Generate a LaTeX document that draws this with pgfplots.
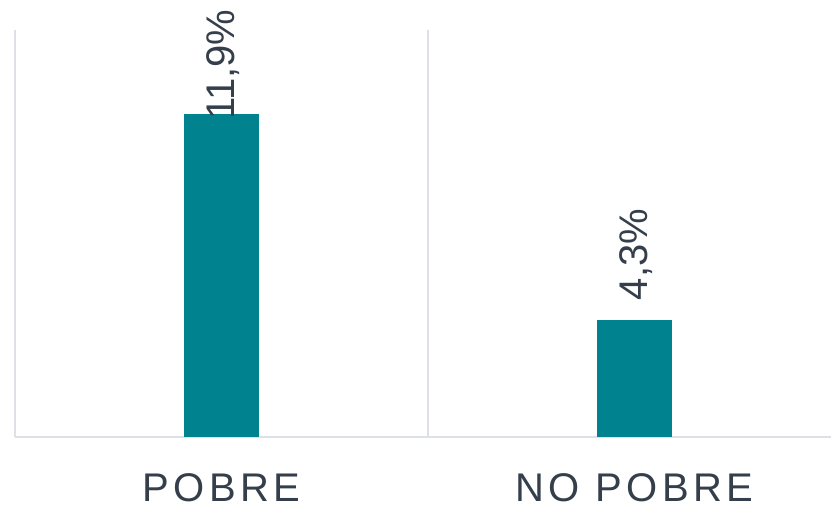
\documentclass[border=0pt]{standalone}
\usepackage{fontspec}
\setmainfont{Liberation Sans}
\newfontfamily\catfont[LetterSpace=11]{Liberation Sans}
\usepackage{pgfplots}
\pgfplotsset{compat=1.18}
\definecolor{barc}{HTML}{00838F}
\definecolor{txt}{HTML}{343F4B}
\definecolor{gridc}{HTML}{DDE1E5}

\begin{document}
\begin{tikzpicture}
\path[use as bounding box] (0,0) rectangle (831pt,506pt);
\begin{axis}[
  at={(15pt,69pt)}, anchor=south west,
  scale only axis, width=826pt, height=407pt,
  xmin=-0.5, xmax=1.5, ymin=0, ymax=15,
  ybar, bar width=75pt,
  axis x line*=bottom, axis y line=none,
  axis line style={gridc, line width=1.2pt},
  xtick={0,1}, xticklabels={POBRE,NO POBRE},
  major tick length=0pt,
  xticklabel style={font=\fontsize{40}{44}\catfont, text=txt, anchor=north, inner sep=0pt, yshift=-36pt},
  extra x ticks={-0.5,0.5,1.5}, extra x tick labels={},
  extra x tick style={grid=major, major grid style={gridc, line width=1.2pt}},
  nodes near coords,
  point meta=explicit symbolic,
  every node near coord/.append style={font=\fontsize{40}{44}\selectfont, text=txt, anchor=west, inner sep=0pt},
]
\addplot[fill=barc, draw=none, bar shift=0pt,
  every node near coord/.append style={yshift=-6pt, xshift=2pt, rotate=90}]
  coordinates {(0,11.9) [11,9\%]};
\addplot[fill=barc, draw=none, bar shift=0pt,
  every node near coord/.append style={yshift=20pt, xshift=2pt, rotate=90}]
  coordinates {(1,4.3) [4,3\%]};
\end{axis}
\end{tikzpicture}
\end{document}
